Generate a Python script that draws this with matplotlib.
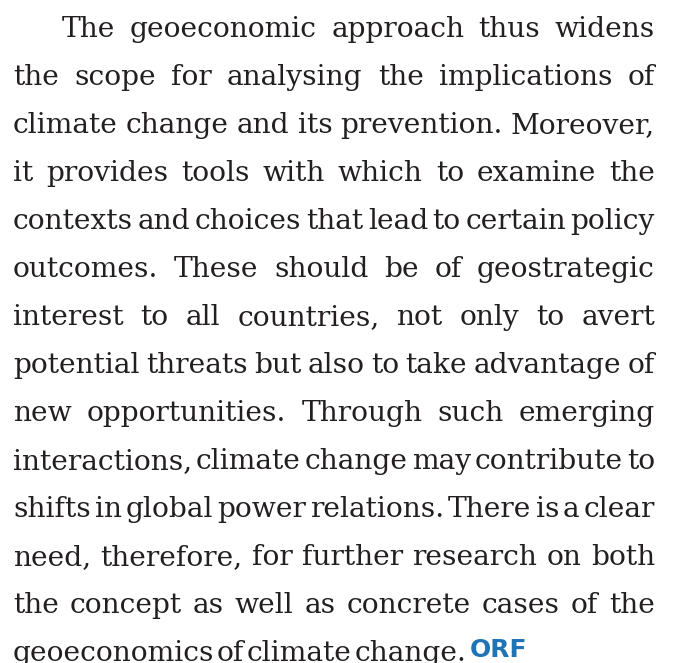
import matplotlib.pyplot as plt

# paragraph lines, as broken in the reference
lines = [
    "The geoeconomic approach thus widens",
    "the scope for analysing the implications of",
    "climate change and its prevention. Moreover,",
    "it provides tools with which to examine the",
    "contexts and choices that lead to certain policy",
    "outcomes. These should be of geostrategic",
    "interest to all countries, not only to avert",
    "potential threats but also to take advantage of",
    "new opportunities. Through such emerging",
    "interactions, climate change may contribute to",
    "shifts in global power relations. There is a clear",
    "need, therefore, for further research on both",
    "the concept as well as concrete cases of the",
    "geoeconomics of climate change.",
]
logo_text = "ORF"

text_color = "#231f20"
logo_color = "#1f74b6"
font = "DejaVu Serif"

W, H = 673, 663
fig = plt.figure(figsize=(W / 100, H / 100), dpi=100)
ax = fig.add_axes([0, 0, 1, 1])
ax.set_xlim(0, W)
ax.set_ylim(H, 0)
ax.axis("off")

renderer = fig.canvas.get_renderer()
left, right, indent = 13, 655, 62
last_end = 466  # last line is set tight, ends before the logo
base0, step = 37, 48


def width(s, size):
    t = ax.text(0, 0, s, fontsize=size, family=font)
    w = t.get_window_extent(renderer).width
    t.remove()
    return w


# largest size at which every justified line still has a small gap
size = 26.0
while size > 12:
    ok = True
    for i, line in enumerate(lines[:-1]):
        words = line.split()
        x0 = indent if i == 0 else left
        total = sum(width(w, size) for w in words)
        if (right - x0 - total) / (len(words) - 1) < 0.13 * size * 100 / 72:
            ok = False
            break
    if ok:
        break
    size -= 0.25


def place_words(words, x0, x1, y):
    items = []
    for w in words:
        t = ax.text(0, y, w, fontsize=size, family=font, color=text_color,
                    ha="left", va="baseline")
        items.append((t, t.get_window_extent(renderer).width))
    total = sum(wd for _, wd in items)
    gap = (x1 - x0 - total) / (len(items) - 1)
    x = x0
    for t, wd in items:
        t.set_x(x)
        x += wd + gap
    return x - gap


for i, line in enumerate(lines):
    y = base0 + i * step
    x0 = indent if i == 0 else left
    last = i == len(lines) - 1
    end = place_words(line.split(), x0, last_end if last else right, y)
    if last:
        ax.text(end + 4, y - 4, logo_text, fontsize=18, family="DejaVu Sans",
                fontweight="bold", color=logo_color, ha="left", va="baseline")

fig.savefig("out.png", dpi=100)
